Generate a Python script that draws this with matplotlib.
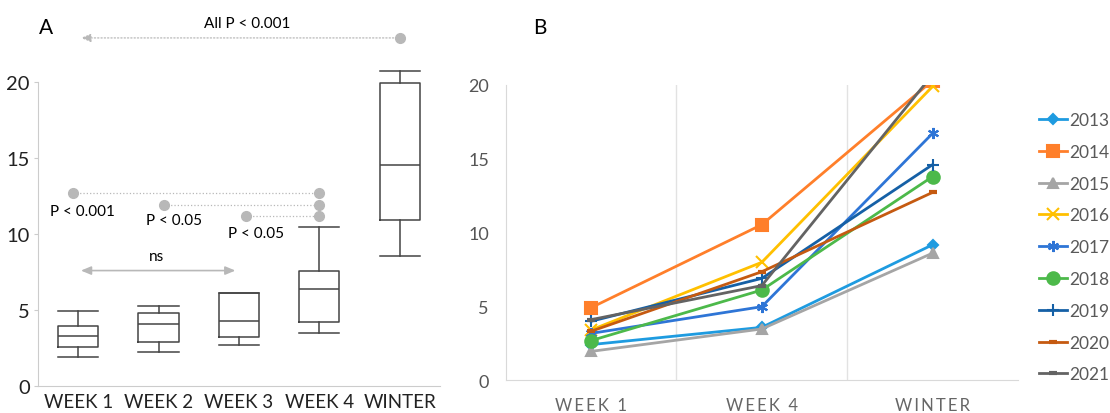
import matplotlib.pyplot as plt
import numpy as np

plt.rcParams['font.family'] = ['Lato', 'DejaVu Sans']

# panel A: box plot summaries
weeks = ['WEEK 1', 'WEEK 2', 'WEEK 3', 'WEEK 4', 'WINTER']
whislo = [1.87, 2.2, 2.66, 3.45, 8.53]
q1 = [2.53, 2.88, 3.2, 4.22, 10.92]
med = [3.25, 4.04, 4.24, 6.35, 14.55]
q3 = [3.96, 4.79, 6.13, 7.58, 19.9]
whishi = [4.9, 5.23, 6.13, 10.48, 20.7]

# comparisons against week 4 (start group, y level, label)
cmp_start = [0.93, 2.07, 3.09]
cmp_y = [12.7, 11.93, 11.18]
cmp_labels = ['P < 0.001', 'P < 0.05', 'P < 0.05']
cmp_label_y = [11.5, 10.9, 10.07]

# panel B: yearly values
groups = ['WEEK 1', 'WEEK 4', 'WINTER']
years = ['2013', '2014', '2015', '2016', '2017', '2018', '2019', '2020', '2021']
vals = {
    '2013': [2.4, 3.57, 9.17],
    '2014': [4.9, 10.53, 20.3],
    '2015': [1.94, 3.46, 8.6],
    '2016': [3.39, 7.98, 19.9],
    '2017': [3.16, 4.97, 16.72],
    '2018': [2.67, 6.1, 13.79],
    '2019': [3.98, 6.89, 14.6],
    '2020': [3.3, 7.34, 12.72],
    '2021': [4.09, 6.4, 20.7],
}
colors = ['#1E9BE0', '#FF7F2A', '#A5A5A5', '#FFC000', '#2E75D6',
          '#4CB94A', '#1560A6', '#C55A11', '#636363']
markers = ['D', 's', '^', 'x', (6, 2, 0), 'o', '+', '_', '_']
msizes = [5, 9, 7, 8, 8, 9, 8, 6, 6]

fig = plt.figure(figsize=(11.1, 4.14), dpi=100)

# ---------- A ----------
ax = fig.add_axes([0.0342, 0.066, 0.3622, 0.7336])
stats = []
for i in range(len(weeks)):
    stats.append(dict(med=med[i], q1=q1[i], q3=q3[i], whislo=whislo[i], whishi=whishi[i], fliers=[]))
pos = np.arange(1, len(weeks) + 1)
bp = ax.bxp(stats, positions=pos, widths=0.5, showfliers=False,
            boxprops=dict(color='#444444', lw=1.1),
            whiskerprops=dict(color='#444444', lw=1.1),
            capprops=dict(color='#444444', lw=1.1),
            medianprops=dict(color='#444444', lw=1.1))
for k in bp:
    for a in bp[k]:
        a.set_clip_on(False)
for c in bp['caps']:
    m = np.mean(c.get_xdata())
    c.set_xdata([m - 0.25, m + 0.25])

ax.set_xlim(0.5, 5.5)
ax.set_ylim(0, 20)
ax.set_yticks([0, 5, 10, 15, 20])
ax.set_xticks(pos)
ax.set_xticklabels(weeks)
ax.tick_params(axis='x', length=0, labelsize=13.5, colors='#222222', pad=5)
ax.tick_params(axis='y', length=3, color='#cccccc', labelsize=14.5, labelcolor='#222222', pad=3)
for s in ['top', 'right']:
    ax.spines[s].set_visible(False)
for s in ['left', 'bottom']:
    ax.spines[s].set_color('#cccccc')

gcol = '#b8b8b8'
# all P < 0.001
ax.annotate('', xy=(1.0, 22.9), xytext=(5.0, 22.9), annotation_clip=False,
            arrowprops=dict(arrowstyle='-|>,head_length=0.6,head_width=0.25', color=gcol, lw=0.9, ls=':'))
ax.plot([5.0], [22.9], 'o', color=gcol, ms=7, clip_on=False)
ax.text(3.1, 23.9, 'All P < 0.001', ha='center', va='center', fontsize=11, clip_on=False)

for xs, y, lab, ly in zip(cmp_start, cmp_y, cmp_labels, cmp_label_y):
    ax.plot([xs, 4.0], [y, y], color=gcol, lw=0.9, ls=':', zorder=1)
    ax.plot([xs, 4.0], [y, y], 'o', color=gcol, ms=7, zorder=2)
    ax.text(xs + 0.12, ly, lab, ha='center', va='center', fontsize=11)

ax.annotate('', xy=(1.0, 7.58), xytext=(2.99, 7.58),
            arrowprops=dict(arrowstyle='<|-|>,head_length=0.6,head_width=0.25', color=gcol, lw=1.2))
ax.text(1.97, 8.57, 'ns', ha='center', va='center', fontsize=11)

fig.text(0.0414, 0.932, 'A', fontsize=15, ha='center', va='center')

# ---------- B ----------
bx = fig.add_axes([0.4555, 0.0797, 0.4616, 0.7126])
xg = np.arange(len(groups))
lines = []
for yr, c, mk, ms in zip(years, colors, markers, msizes):
    mew = 3 if mk == '_' else 1.5
    ln, = bx.plot(xg, vals[yr], color=c, lw=2, marker=mk, ms=ms, mew=mew, label=yr)
    lines.append(ln)
bx.set_xlim(-0.5, 2.5)
bx.set_ylim(0, 20)
bx.set_yticks([0, 5, 10, 15, 20])
bx.set_xticks(xg)
bx.set_xticklabels(['\u2009'.join('WEEK') + '\u2009\u2009 1',
                    '\u2009'.join('WEEK') + '\u2009\u2009 4',
                    '\u2009'.join('WINTER')])
for xv in [0.5, 1.5]:
    bx.axvline(xv, color='#e2e2e2', lw=1, zorder=0)
bx.tick_params(axis='x', length=0, labelsize=12, colors='#666666', pad=12)
bx.tick_params(axis='y', length=0, labelsize=13, colors='#555555', pad=12)
for s in ['top', 'right']:
    bx.spines[s].set_visible(False)
for s in ['left', 'bottom']:
    bx.spines[s].set_color('#d9d9d9')

fig.legend(handles=lines, loc='upper left', bbox_to_anchor=(0.936, 0.727),
           frameon=False, fontsize=12.5, labelspacing=0.91, handlelength=1.6,
           handletextpad=0.15, borderpad=0, borderaxespad=0, labelcolor='#595959')
fig.text(0.4865, 0.932, 'B', fontsize=15, ha='center', va='center')

fig.savefig('out.png', dpi=100)
